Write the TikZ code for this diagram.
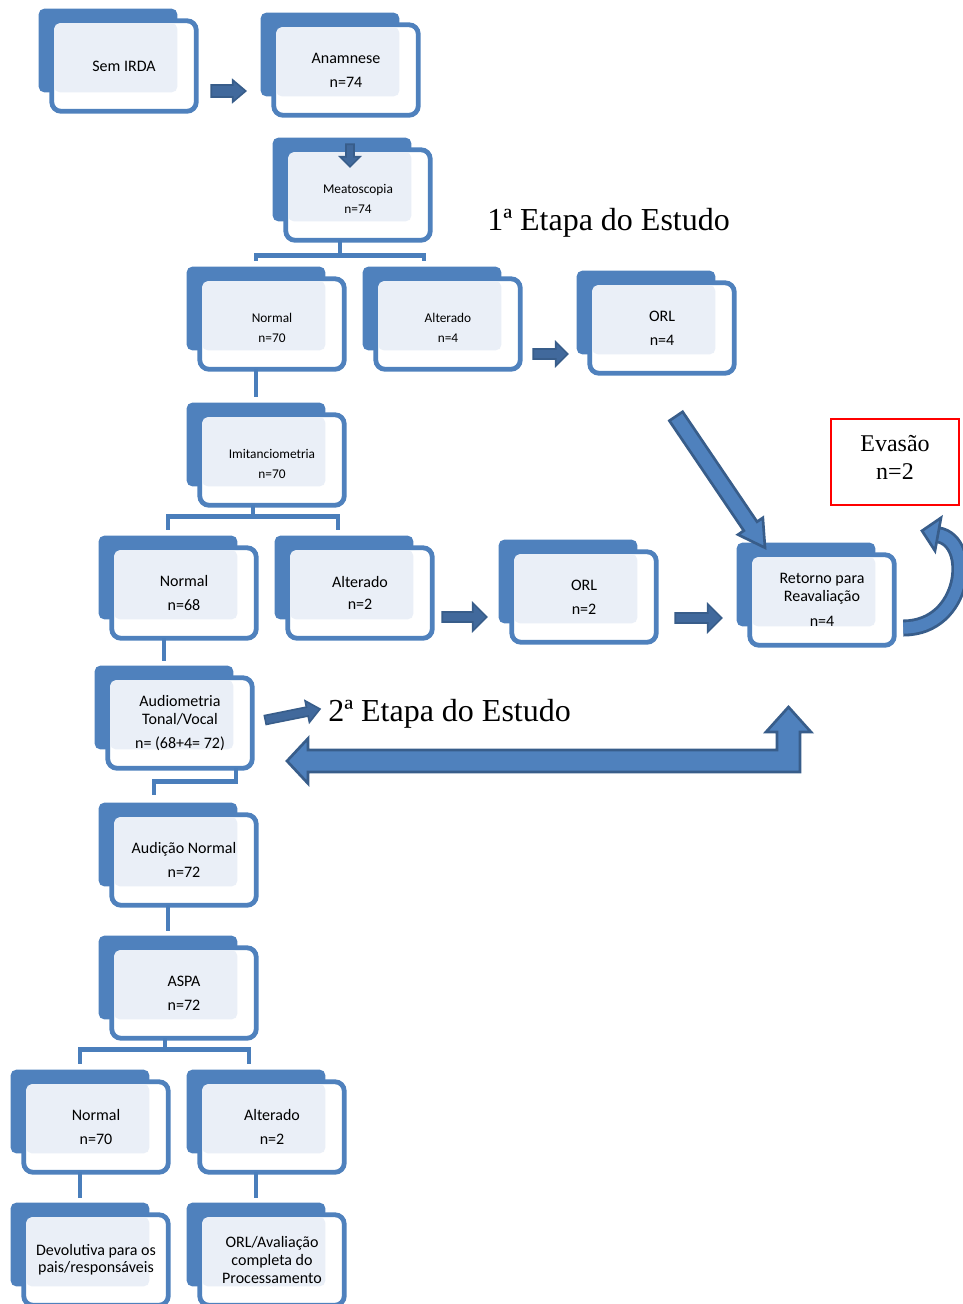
\documentclass[tikz,border=0pt]{standalone}
\usepackage{fontspec}
\setmainfont{Liberation Serif}
\newfontfamily\calibri{Carlito}
\usetikzlibrary{calc,backgrounds}

\definecolor{boxblue}{HTML}{4F81BD}
\definecolor{boxpanel}{HTML}{EAEFF7}
\definecolor{connblue}{HTML}{4A7EBB}
\definecolor{arrowdark}{HTML}{385D8A}
\definecolor{arrowmid}{HTML}{41699C}

% taller first line, pushes small texts down a bit
\newcommand{\topgap}{\rule{0pt}{13pt}}

% block arrow from #2 to #3: shaft half width #4, head half width #5, head length #6
\newcommand{\blockarrow}[6][]{%
  \path ($(#3)!#6!(#2)$) coordinate (ah);
  \filldraw[fatarrow,#1] ($(#2)!#4!90:(#3)$) -- ($(ah)!#4!90:(#3)$) -- ($(ah)!#5!90:(#3)$)
    -- (#3) -- ($(ah)!#5!-90:(#3)$) -- ($(ah)!#4!-90:(#3)$) -- ($(#2)!#4!-90:(#3)$) -- cycle;
}

\begin{document}
\begin{tikzpicture}[x=0.75pt,y=-0.75pt,
    stage/.style={minimum width=108pt, minimum height=67.5pt, inner sep=0pt, align=center,
      font=\calibri\fontsize{12}{18}\selectfont},
    stagesm/.style={stage, font=\calibri\fontsize{10}{15}\selectfont},
    conn/.style={connblue, line width=3.6pt},
    fatarrow/.style={fill=boxblue, draw=arrowdark, line width=2pt, line join=miter},
    smallarrow/.style={fill=arrowmid, line width=1.2pt}]
\useasboundingbox (0,0) rectangle (963,1304);

% stages
\node[stage] (irda) at (124,66) {Sem IRDA};
\node[stage] (anam) at (346,70) {Anamnese\\n=74};
\node[stagesm] (meato) at (358,195) {\topgap Meatoscopia\\n=74};
\node[stagesm] (norm1) at (272,324) {\topgap Normal\\n=70};
\node[stagesm] (alt1) at (448,324) {\topgap Alterado\\n=4};
\node[stage] (orl1) at (662,328) {ORL\\n=4};
\node[stagesm] (imit) at (272,460) {\topgap Imitanciometria\\n=70};
\node[stage] (norm2) at (184,593) {Normal\\n=68};
\node[stage] (alt2) at (360,593) {Alterado\\[-2pt]n=2};
\node[stage] (orl2) at (584,597) {ORL\\n=2};
\node[stage] (retorno) at (822,600) {Retorno para\\[-5pt]Reavaliação\\[1pt]n=4};
\node[stage] (audio) at (180,723) {Audiometria\\[-4.5pt]Tonal/Vocal\\n= (68+4= 72)};
\node[stage] (audnorm) at (184,860) {Audição Normal\\n=72};
\node[stage] (aspa) at (184,993) {ASPA\\n=72};
\node[stage] (normf) at (96,1127) {Normal\\n=70};
\node[stage] (altf) at (272,1127) {Alterado\\n=2};
\node[stage] (devol) at (96,1260) {Devolutiva para os\\[-5.25pt]pais/responsáveis};
\node[stage] (orlav) at (272,1260) {ORL/Avaliação\\[-4.5pt]completa do\\[-5pt]Processamento};

\node[draw=red, line width=1.2pt, minimum width=96pt, minimum height=64.5pt, align=center,
  text depth=7pt, font=\fontsize{18}{21.5}\selectfont] (evasao) at (895,462) {Evasão\\n=2};
\node[anchor=base west, inner sep=0pt, font=\fontsize{24}{28}\selectfont] (etapa1) at (487,230) {1ª Etapa do Estudo};
\node[anchor=base west, inner sep=0pt, font=\fontsize{24}{28}\selectfont] (etapa2) at (328,721) {2ª Etapa do Estudo};

% stacked boxes behind the texts
\begin{scope}[on background layer]
  \foreach \stg in {irda,anam,meato,norm1,alt1,orl1,imit,norm2,alt2,orl2,retorno,audio,audnorm,aspa,normf,altf,devol,orlav}{
    \fill[boxblue, rounded corners=4pt] ([shift={(-13,-12)}]\stg.north west) rectangle ([shift={(-19,-19)}]\stg.south east);
    \draw[boxblue, fill=white, line width=3.6pt, rounded corners=7pt] (\stg.north west) rectangle (\stg.south east);
    \fill[boxpanel, rounded corners=4pt] ([shift={(2.5,2.5)}]\stg.north west) rectangle ([shift={(-19,-19)}]\stg.south east);
  }
\end{scope}

% tree lines
\draw[conn] ([shift={(-18,0)}]meato.south) -- ++(0,15) coordinate (mfork);
\draw[conn] ([shift={(-16,-18)}]norm1.north) |- (mfork) -| ([shift={(-24,-18)}]alt1.north);
\draw[conn] ([shift={(-16,0)}]norm1.south) -- ([shift={(-16,-18)}]imit.north);
\draw[conn] ([shift={(-19,0)}]imit.south) -- ++(0,11) coordinate (ifork);
\draw[conn] ([shift={(-16,-18)}]norm2.north) |- (ifork) -| ([shift={(-22,-18)}]alt2.north);
\draw[conn] ([shift={(-20,0)}]norm2.south) -- ([shift={(-16,-17)}]audio.north);
\draw[conn] ([shift={(56,0)}]audio.south) -- ++(0,13) -| ([shift={(-30,-20)}]audnorm.north);
\draw[conn] ([shift={(-16,0)}]audnorm.south) -- ([shift={(-16,-17)}]aspa.north);
\draw[conn] ([shift={(-19,0)}]aspa.south) -- ++(0,11) coordinate (afork);
\draw[conn] ([shift={(-16,-18)}]normf.north) |- (afork) -| ([shift={(-23,-18)}]altf.north);
\draw[conn] ([shift={(-16,0)}]normf.south) -- ([shift={(-16,-17)}]devol.north);
\draw[conn] ([shift={(-16,0)}]altf.south) -- ([shift={(-16,-17)}]orlav.north);

% block arrows
\coordinate (a1) at ([shift={(15,25)}]irda.east);
\coordinate (b1) at ([shift={(-28,21)}]anam.west);
\blockarrow[smallarrow]{a1}{b1}{4.5pt}{8.25pt}{9.75pt}
\coordinate (a2) at ([shift={(4,29)}]anam.south);
\coordinate (b2) at ([shift={(-8,17)}]meato.north);
\blockarrow[smallarrow]{a2}{b2}{3pt}{7.5pt}{7.5pt}
\coordinate (a3) at ([shift={(13,30)}]alt1.east);
\coordinate (b3) at ([shift={(-22,26)}]orl1.west);
\blockarrow[smallarrow]{a3}{b3}{3.75pt}{9pt}{9pt}
\coordinate (a4) at ([shift={(10,24)}]alt2.east);
\coordinate (b4) at ([shift={(-25,20)}]orl2.west);
\blockarrow[smallarrow]{a4}{b4}{3.75pt}{10.5pt}{10.5pt}
\coordinate (a5) at ([shift={(19,21)}]orl2.east);
\coordinate (b5) at ([shift={(-28,18)}]retorno.west);
\blockarrow[smallarrow]{a5}{b5}{3.75pt}{10.5pt}{10.5pt}
\coordinate (a6) at ([shift={(14,43)}]orl1.south);
\coordinate (b6) at ([shift={(-57,-7)}]retorno.north);
\blockarrow{a6}{b6}{6pt}{11.25pt}{19.5pt}
\coordinate (a7) at ([shift={(13,-3)}]audio.east);
\coordinate (b7) at ([shift={(-8,-12)}]etapa2.base west);
\blockarrow[smallarrow]{a7}{b7}{3.4pt}{8.25pt}{9.75pt}

% return to the 2nd stage
\filldraw[fatarrow] (287,761) -- (308,738.5) -- (308,750) -- (777,750) -- (777,732) -- (766,732)
  -- (788.5,707) -- (811,732) -- (800,732) -- (800,772) -- (308,772) -- (308,783.5) -- cycle;

% curved arrow to Evasao
\coordinate (ctail) at ([shift={(9,28)}]retorno.east);
\coordinate (chead) at ([shift={(43,29)}]evasao.south);
\draw[arrowdark, line width=12.75pt] (ctail) .. controls +(63,0) and +(37,6) .. (chead);
\draw[boxblue, line width=8.5pt] (ctail) .. controls +(63,0) and +(37,6) .. (chead);
\filldraw[fatarrow] ([shift={(3,-17)}]chead) -- ([shift={(-16,-4)}]chead) -- ([shift={(-3,16)}]chead) -- cycle;
\end{tikzpicture}
\end{document}
